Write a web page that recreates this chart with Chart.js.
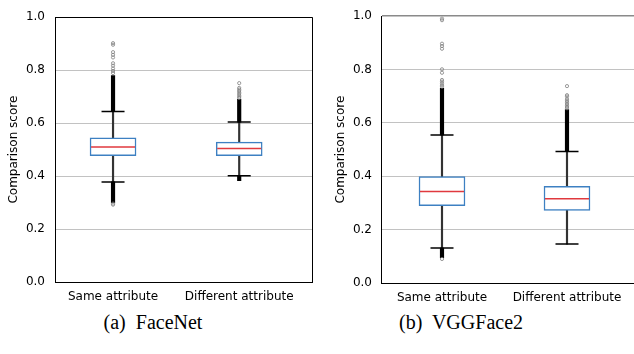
<!DOCTYPE html>
<html>
<head>
<meta charset="utf-8">
<script src="https://cdn.jsdelivr.net/npm/chart.js@4.4.1/dist/chart.umd.min.js"></script>
<style>
    html, body { margin: 0; padding: 0; background: #fff; }
    body { width: 634px; height: 354px; position: relative; overflow: hidden; }
    .painel { position: absolute; top: 0; height: 310px; }
    .legenda {
        position: absolute; top: 310px; width: 220px; height: 24px; line-height: 24px;
        font-family: "Liberation Serif", serif; font-size: 20px; color: #000; text-align: center;
    }
</style>
</head>
<body>
<div class="painel" style="left:0;width:317px"><canvas id="graficoFaceNet" width="317" height="310"></canvas></div>
<div class="painel" style="left:317px;width:317px"><canvas id="graficoVGG" width="317" height="310"></canvas></div>
<div class="legenda" style="left:43px">(a)&nbsp; FaceNet</div>
<div class="legenda" style="left:351px">(b)&nbsp; VGGFace2</div>

<script>
// Categorias e ticks
const categorias = ["Same attribute", "Different attribute"];
const yTicks = [0, 0.2, 0.4, 0.6, 0.8, 1.0];

// FaceNet
const faceQ1 = [0.477, 0.477];
const faceQ3 = [0.544, 0.528];
const faceMediana = [0.510, 0.504];
const faceBigodeBaixo = [0.378, 0.401];
const faceBigodeAlto = [0.644, 0.604];
const faceDensoAlto = [0.780, 0.690];
const faceDensoBaixo = [0.300, 0.383];
const faceOutliers = [
    [0.902, 0.896, 0.868, 0.858, 0.848, 0.826, 0.817, 0.806, 0.797, 0.789, 0.296, 0.292],
    [0.751, 0.733, 0.727, 0.722, 0.716, 0.711, 0.705, 0.700, 0.695]
];

// VGGFace2
const vggQ1 = [0.290, 0.272];
const vggQ3 = [0.399, 0.362];
const vggMediana = [0.343, 0.316];
const vggBigodeBaixo = [0.131, 0.146];
const vggBigodeAlto = [0.555, 0.493];
const vggDensoAlto = [0.730, 0.650];
const vggDensoBaixo = [0.095, null];
const vggOutliers = [
    [0.991, 0.985, 0.897, 0.888, 0.878, 0.801, 0.788, 0.761, 0.755, 0.748, 0.741, 0.736, 0.090],
    [0.738, 0.704, 0.699, 0.689, 0.683, 0.677, 0.671, 0.665, 0.660, 0.655]
];

const fonte = { family: "DejaVu Sans", size: 12 };

function montarDatasets(q1, q3, mediana, bigBaixo, bigAlto, densoAlto, densoBaixo, outliers) {
    const pos = categorias.map((c, i) => i + 1);
    const faixa = (a, b) => pos.map((x, i) => ({ x, y: (a[i] == null || b[i] == null) ? null : [a[i], b[i]] }));
    const pontos = (v) => pos.map((x, i) => ({ x, y: v[i] }));

    const pontosOutliers = [];
    outliers.forEach((lista, i) => lista.forEach(v => pontosOutliers.push({ x: pos[i], y: v })));

    return [
        // mediana
        { type: "scatter", data: pontos(mediana), order: 0, pointStyle: "line", pointRadius: 22,
          pointBorderColor: "#e0393e", pointBorderWidth: 1.5 },
        // tampas dos bigodes
        { type: "scatter", data: pontos(bigBaixo).concat(pontos(bigAlto)), order: 1, pointStyle: "line",
          pointRadius: 11.5, pointBorderColor: "#000", pointBorderWidth: 1.5 },
        // outliers isolados
        { type: "scatter", data: pontosOutliers, order: 2, pointStyle: "circle", pointRadius: 1.6,
          pointBorderColor: "#808080", pointBorderWidth: 0.8, pointBackgroundColor: "rgba(0,0,0,0)" },
        // caixa
        { type: "bar", data: faixa(q1, q3), order: 3, grouped: false, barThickness: 46,
          backgroundColor: "#fff", borderColor: "#3d80c2", borderWidth: 1.5, borderSkipped: false },
        // outliers densos
        { type: "bar", data: faixa(bigAlto, densoAlto), order: 4, grouped: false, barThickness: 3.5, backgroundColor: "#000" },
        { type: "bar", data: faixa(densoBaixo, bigBaixo), order: 4, grouped: false, barThickness: 3.5, backgroundColor: "#000" },
        // bigodes
        { type: "bar", data: faixa(bigBaixo, q1), order: 5, grouped: false, barThickness: 1.5, backgroundColor: "#333" },
        { type: "bar", data: faixa(q3, bigAlto), order: 5, grouped: false, barThickness: 1.5, backgroundColor: "#333" }
    ];
}

function criarGrafico(id, datasets, cfg) {
    const ctx = document.getElementById(id).getContext("2d");
    return new Chart(ctx, {
        type: "bar",
        data: { datasets },
        options: {
            responsive: false,
            animation: false,
            events: [],
            layout: { autoPadding: false, padding: { top: cfg.topo, right: cfg.direita, left: 0, bottom: 0 } },
            plugins: { legend: { display: false }, tooltip: { enabled: false } },
            scales: {
                x: {
                    type: "linear",
                    bounds: "data",
                    min: cfg.xMin,
                    max: cfg.xMax,
                    offset: false,
                    afterBuildTicks: s => {
                        s.ticks = categorias.map((c, i) => ({ value: i + 1 }));
                        // borda direita como linha de grade no fim do eixo
                        if (cfg.bordaDireita) s.ticks.push({ value: cfg.xMax });
                        s.min = cfg.xMin;
                        s.max = cfg.xMax;
                    },
                    afterFit: s => { s.height = cfg.alturaX; s.paddingLeft = 0; s.paddingRight = 0; },
                    ticks: { callback: v => categorias[v - 1] || "", font: fonte, color: "#000", padding: 8,
                             maxRotation: 0, autoSkip: false },
                    grid: {
                        offset: false,
                        drawTicks: false,
                        color: c => c.tick && c.tick.value === cfg.xMax ? "#000" : "rgba(0,0,0,0)"
                    },
                    border: { display: true, color: "#000", width: 1 }
                },
                y: {
                    min: 0,
                    max: 1,
                    afterBuildTicks: s => { s.ticks = yTicks.map(v => ({ value: v })); },
                    afterFit: s => { s.width = cfg.larguraY; },
                    ticks: { callback: v => v.toFixed(1), font: fonte, color: "#000", padding: cfg.padTick },
                    grid: {
                        drawTicks: false,
                        color: c => c.tick.value === 1 ? cfg.corTopo : (c.tick.value === 0 ? "rgba(0,0,0,0)" : "#c2c2c2"),
                        lineWidth: c => c.tick.value === 1 ? cfg.espTopo : 1
                    },
                    border: { display: true, color: "#000", width: 1 },
                    title: { display: true, text: "Comparison score", font: fonte, color: "#000",
                             padding: { top: cfg.padTitulo, bottom: 0 } }
                }
            }
        }
    });
}

criarGrafico("graficoFaceNet",
    montarDatasets(faceQ1, faceQ3, faceMediana, faceBigodeBaixo, faceBigodeAlto, faceDensoAlto, faceDensoBaixo, faceOutliers),
    { topo: 12, direita: 5, alturaX: 28, larguraY: 55, padTick: 10, padTitulo: 7,
      xMin: 0.54, xMax: 2.577, corTopo: "#000", espTopo: 1, bordaDireita: true });

criarGrafico("graficoVGG",
    montarDatasets(vggQ1, vggQ3, vggMediana, vggBigodeBaixo, vggBigodeAlto, vggDensoAlto, vggDensoBaixo, vggOutliers),
    { topo: 15, direita: 0, alturaX: 27, larguraY: 64, padTick: 9, padTitulo: 17,
      xMin: 0.512, xMax: 2.536, corTopo: "#8a8a8a", espTopo: 1.5, bordaDireita: false });
</script>
</body>
</html>
